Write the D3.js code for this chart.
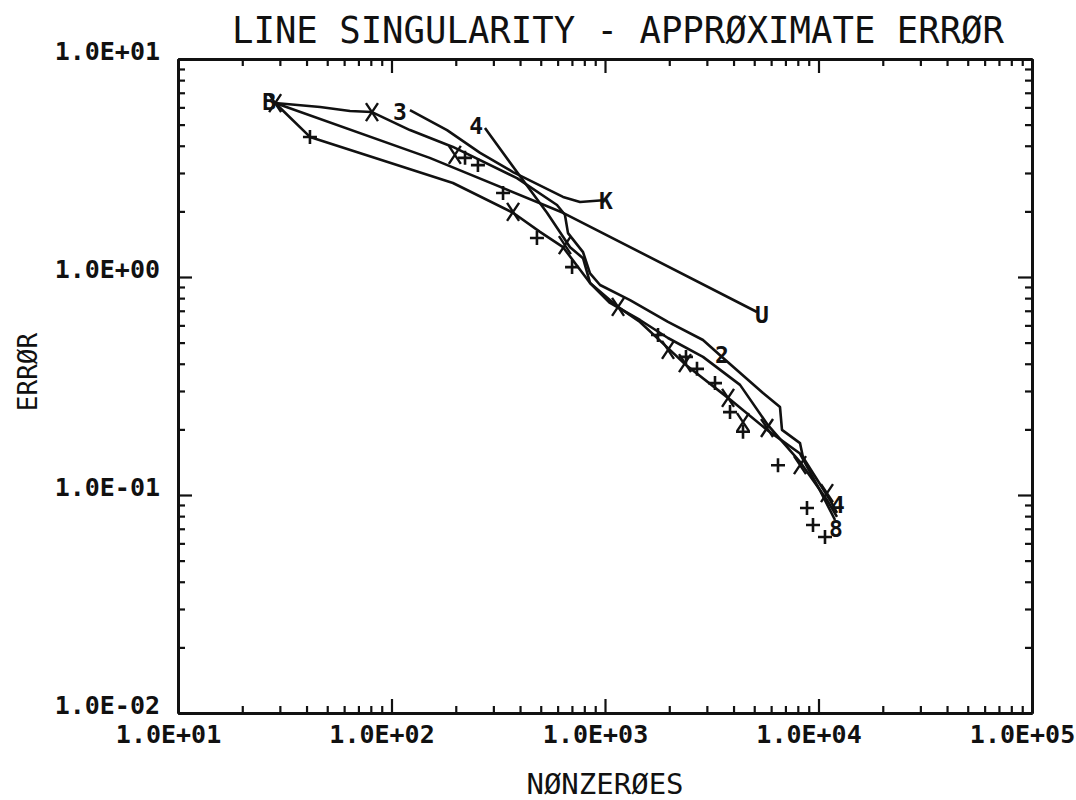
<!DOCTYPE html>
<html lang="en">
<head>
    <meta charset="UTF-8">
    <title>Line singularity - approximate error</title>
    <script src="https://d3js.org/d3.v7.min.js"></script>
    <style>
        body { margin: 0; background: #fff; }
        svg { display: block; }
    </style>
</head>
<body>
    <div id="chart-container"></div>
    <script>
        // Curves (nonzeroes vs. error)
        const uNnz = [28.5, 151, 636, 5151];
        const uErr = [6.28, 3.52, 1.97, 0.691];

        const kNnz = [122, 182, 260, 371, 636, 764, 979];
        const kErr = [5.83, 4.72, 3.71, 3.03, 2.33, 2.21, 2.25];

        const twoNnz = [28.5, 46.3, 63.9, 81.0, 122, 194, 387, 596, 649, 671, 789, 851, 948, 1310, 1973, 2877, 3532, 5496, 6602, 6745, 8190, 8458, 11320, 12210];
        const twoErr = [6.28, 6.02, 5.77, 5.71, 4.72, 3.95, 2.84, 2.14, 1.93, 1.59, 1.30, 1.04, 0.919, 0.784, 0.622, 0.514, 0.430, 0.294, 0.253, 0.199, 0.173, 0.149, 0.0949, 0.0827];

        const fourNnz = [274, 387, 535, 686, 789, 851, 1055, 1458, 1973, 2877, 4290, 5800, 8190, 10960, 12210];
        const fourErr = [4.83, 3.03, 1.97, 1.37, 1.22, 0.939, 0.760, 0.635, 0.525, 0.430, 0.320, 0.209, 0.142, 0.0949, 0.0793];

        const lowNnz = [28.5, 41.5, 194, 371, 496, 636, 851, 1151, 1458, 1973, 2395, 3769, 5740, 8190, 10160, 11950];
        const lowErr = [6.28, 4.39, 2.70, 1.97, 1.61, 1.37, 0.939, 0.729, 0.622, 0.472, 0.395, 0.279, 0.199, 0.155, 0.105, 0.0768];

        // point symbols
        const xMarkNnz = [28.5, 81.0, 198, 371, 649, 1151, 1973, 2370, 3769, 4430, 5740, 8190, 10960];
        const xMarkErr = [6.28, 5.71, 3.63, 1.99, 1.40, 0.729, 0.463, 0.403, 0.279, 0.216, 0.203, 0.137, 0.102];
        const plusNnz = [41.5, 221, 254, 333, 480, 701, 1771, 2395, 2697, 3275, 3851, 4430, 6461, 8833, 9424, 10725];
        const plusErr = [4.39, 3.52, 3.26, 2.43, 1.51, 1.11, 0.542, 0.430, 0.379, 0.326, 0.240, 0.195, 0.137, 0.0872, 0.0729, 0.0642];

        // curve labels
        const labelText = ["B", "3", "4", "K", "U", "2", "4", "8"];
        const labelNnz = [26.7, 109.6, 249, 1011, 5437, 3532, 12340, 12080];
        const labelErr = [6.35, 5.71, 4.93, 2.23, 0.669, 0.439, 0.0905, 0.0700];

        // axes
        const xMajor = [1e1, 1e2, 1e3, 1e4, 1e5];
        const xTickLabels = ["1.0E+01", "1.0E+02", "1.0E+03", "1.0E+04", "1.0E+05"];
        const yMajor = [1e-2, 1e-1, 1e0, 1e1];
        const yTickLabels = ["1.0E-02", "1.0E-01", "1.0E+00", "1.0E+01"];

        const width = 1076, height = 800;
        const plotLeft = 178, plotRight = 1032, plotTop = 59, plotBottom = 713;
        const ink = "#111";
        const mono = "'DejaVu Sans Mono', monospace";

        const x = d3.scaleLog().domain([10, 1e5]).range([plotLeft, plotRight]);
        const y = d3.scaleLog().domain([0.01, 10]).range([plotBottom, plotTop]);

        const minors = (lo, hi) => {
            const out = [];
            for (let e = lo; e < hi; e++)
                for (let m = 2; m <= 9; m++) out.push(m * Math.pow(10, e));
            return out;
        };
        const xMinor = minors(1, 5);
        const yMinor = minors(-2, 1);

        const svg = d3.select("#chart-container")
            .append("svg")
            .attr("width", width)
            .attr("height", height);

        svg.append("rect").attr("width", width).attr("height", height).attr("fill", "#fff");

        // axis helper: inward ticks on every side
        function side(axisFn, scale, vals, size, pos, labels) {
            const ax = axisFn(scale).tickValues(vals).tickSizeInner(-size).tickSizeOuter(0)
                .tickFormat(labels ? (d, i) => labels[i] : "");
            const g = svg.append("g").attr("transform", pos).call(ax);
            g.select(".domain").attr("stroke", ink).attr("stroke-width", 3);
            g.selectAll(".tick line").attr("stroke", ink).attr("stroke-width", 2.2);
            return g;
        }

        const bx = side(d3.axisBottom, x, xMajor, 14, `translate(0,${plotBottom})`, xTickLabels);
        side(d3.axisBottom, x, xMinor, 7, `translate(0,${plotBottom})`);
        side(d3.axisTop, x, xMajor, 14, `translate(0,${plotTop})`);
        side(d3.axisTop, x, xMinor, 7, `translate(0,${plotTop})`);
        const ly = side(d3.axisLeft, y, yMajor, 14, `translate(${plotLeft},0)`, yTickLabels);
        side(d3.axisLeft, y, yMinor, 7, `translate(${plotLeft},0)`);
        side(d3.axisRight, y, yMajor, 14, `translate(${plotRight},0)`);
        side(d3.axisRight, y, yMinor, 7, `translate(${plotRight},0)`);

        bx.selectAll(".tick text")
            .attr("x", -10).attr("y", 30).attr("dy", null)
            .attr("fill", ink)
            .style("font", `bold 25px ${mono}`);
        ly.selectAll(".tick text")
            .attr("x", -18).attr("y", 0).attr("dy", null)
            .attr("fill", ink)
            .style("font", `bold 25px ${mono}`);

        // titles
        svg.append("text")
            .attr("x", 618).attr("y", 43)
            .attr("text-anchor", "middle")
            .attr("textLength", 772).attr("lengthAdjust", "spacingAndGlyphs")
            .attr("fill", ink)
            .style("font", `38px ${mono}`)
            .text("LINE SINGULARITY - APPRØXIMATE ERRØR");

        svg.append("text")
            .attr("x", 605).attr("y", 794)
            .attr("text-anchor", "middle")
            .attr("fill", ink)
            .style("font", `29px ${mono}`)
            .text("NØNZERØES");

        svg.append("text")
            .attr("transform", "translate(37,372) rotate(-90)")
            .attr("text-anchor", "middle")
            .attr("fill", ink)
            .style("font", `26px ${mono}`)
            .text("ERRØR");

        // curves
        const line = d3.line().x(d => x(d[0])).y(d => y(d[1]));
        const curves = [
            [uNnz, uErr], [kNnz, kErr], [twoNnz, twoErr], [fourNnz, fourErr], [lowNnz, lowErr]
        ];
        svg.append("g").selectAll("path")
            .data(curves)
            .join("path")
            .attr("d", c => line(d3.zip(c[0], c[1])))
            .attr("fill", "none")
            .attr("stroke", ink)
            .attr("stroke-width", 2.6)
            .attr("stroke-linejoin", "round");

        // markers
        svg.append("g").selectAll("path")
            .data(d3.zip(xMarkNnz, xMarkErr))
            .join("path")
            .attr("transform", d => `translate(${x(d[0])},${y(d[1])})`)
            .attr("d", "M-6,-9L6,9M6,-9L-6,9")
            .attr("stroke", ink).attr("stroke-width", 2.4).attr("fill", "none");

        svg.append("g").selectAll("path")
            .data(d3.zip(plusNnz, plusErr))
            .join("path")
            .attr("transform", d => `translate(${x(d[0])},${y(d[1])})`)
            .attr("d", "M-7,0H7M0,-7V7")
            .attr("stroke", ink).attr("stroke-width", 2.6).attr("fill", "none");

        // curve labels
        svg.append("g").selectAll("text")
            .data(labelText)
            .join("text")
            .attr("x", (d, i) => x(labelNnz[i]))
            .attr("y", (d, i) => y(labelErr[i]))
            .attr("dy", "0.36em")
            .attr("text-anchor", "middle")
            .attr("fill", ink)
            .style("font", `bold 23px ${mono}`)
            .text(d => d);
    </script>
</body>
</html>
